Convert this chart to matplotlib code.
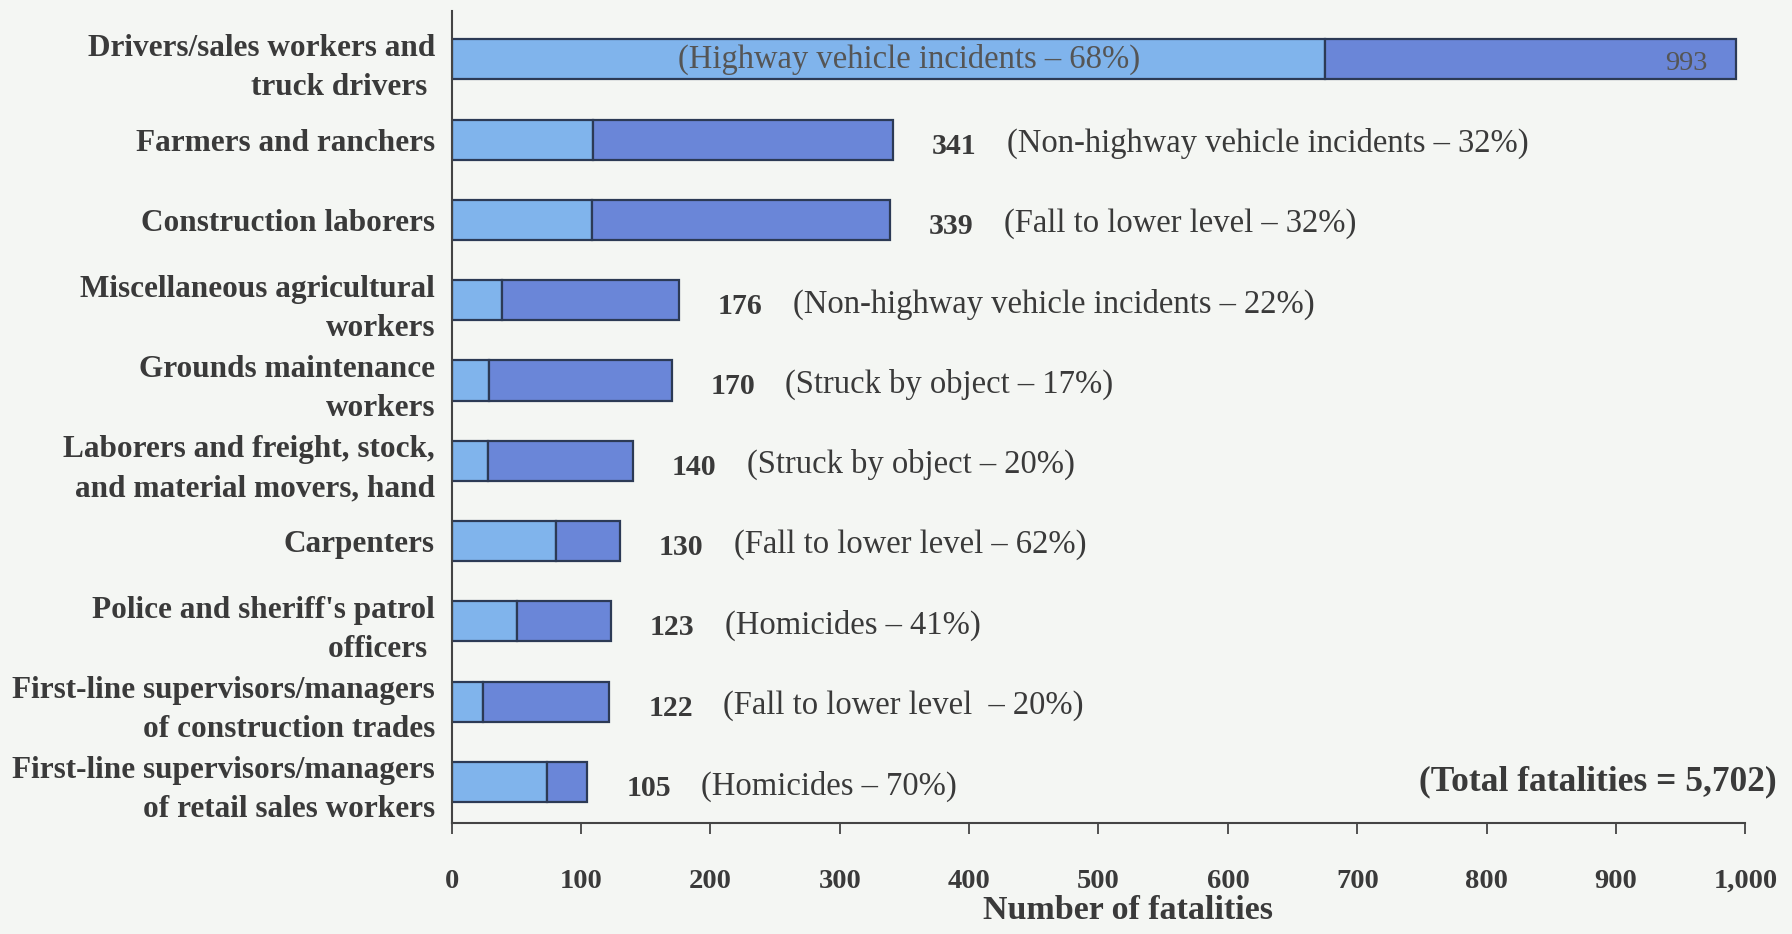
import matplotlib
matplotlib.use("Agg")
import matplotlib.pyplot as plt
import numpy as np

# Occupations with the most fatal work injuries
occupations = [
    "Drivers/sales workers and\ntruck drivers ",
    "Farmers and ranchers",
    "Construction laborers",
    "Miscellaneous agricultural\nworkers",
    "Grounds maintenance\nworkers",
    "Laborers and freight, stock,\nand material movers, hand",
    "Carpenters",
    "Police and sheriff's patrol\nofficers ",
    "First-line supervisors/managers\nof construction trades",
    "First-line supervisors/managers\nof retail sales workers",
]
fatalities = [993, 341, 339, 176, 170, 140, 130, 123, 122, 105]
leading_event = [
    "Highway vehicle incidents",
    "Non-highway vehicle incidents",
    "Fall to lower level",
    "Non-highway vehicle incidents",
    "Struck by object",
    "Struck by object",
    "Fall to lower level",
    "Homicides",
    "Fall to lower level ",
    "Homicides",
]
event_share = [68, 32, 32, 22, 17, 20, 62, 41, 20, 70]
total_fatalities = 5702
x_ticks = [0, 100, 200, 300, 400, 500, 600, 700, 800, 900, 1000]
x_tick_labels = ["0", "100", "200", "300", "400", "500", "600", "700", "800", "900", "1,000"]

LIGHT = "#80b4ec"
DARK = "#6a86d8"
EDGE = "#2c3a55"
TEXT = "#3a3a3a"
BG = "#f4f6f3"
SERIF = ["Liberation Serif", "DejaVu Serif"]

plt.rcParams["font.family"] = SERIF

fig = plt.figure(figsize=(17.92, 9.34), dpi=100, facecolor=BG)
ax = fig.add_axes([0.252, 0.119, 0.722, 0.869], facecolor=BG)

y = np.arange(len(occupations))
vals = np.array(fatalities, dtype=float)
share = np.array(event_share, dtype=float) / 100.0
lead_part = vals * share
rest_part = vals - lead_part

bar_h = 0.5
ax.barh(y, lead_part, height=bar_h, color=LIGHT, edgecolor=EDGE, linewidth=1.6)
ax.barh(y, rest_part, left=lead_part, height=bar_h, color=DARK, edgecolor=EDGE, linewidth=1.6)

note_fs = 23.5
num_fs = 21.5
for i, (v, ev, p) in enumerate(zip(fatalities, leading_event, event_share)):
    note = f"({ev} \u2013 {p}%)"
    if i == 0:
        # The longest bar carries its labels inside
        ax.text(175, i, note, ha="left", va="center", fontsize=note_fs, color="#555555")
        ax.text(v - 22, i + 0.05, str(v), ha="right", va="center", fontsize=num_fs - 1,
                color="#555555")
    else:
        ax.text(v + 30, i + 0.08, str(v), ha="left", va="center", fontsize=num_fs,
                fontweight="bold", color=TEXT)
        ax.text(v + 88, i + 0.05, note, ha="left", va="center", fontsize=note_fs, color=TEXT)

ax.text(1024, 9.0, f"(Total fatalities = {total_fatalities:,})", ha="right", va="center",
        fontsize=25.5, fontweight="bold", color=TEXT)

ax.set_xlim(0, 1000)
ax.set_ylim(9.51, -0.6)
ax.set_yticks(y)
ax.set_yticklabels(occupations, fontsize=22.5, fontweight="bold", color=TEXT,
                   linespacing=1.45)
ax.tick_params(axis="y", length=0, pad=12)
ax.set_xticks(x_ticks)
ax.set_xticklabels(x_tick_labels, fontsize=20.5, fontweight="bold", color=TEXT)
ax.tick_params(axis="x", direction="out", length=8, width=1.3, color="#444444", pad=25)
ax.set_xlabel("Number of fatalities", fontsize=24.5, fontweight="bold", color=TEXT,
              va="center")
ax.xaxis.set_label_coords(0.5225, -0.108)

for side in ("top", "right"):
    ax.spines[side].set_visible(False)
for side in ("left", "bottom"):
    ax.spines[side].set_color("#444444")
    ax.spines[side].set_linewidth(1.5)

fig.savefig("out.png", dpi=100, facecolor=BG)
